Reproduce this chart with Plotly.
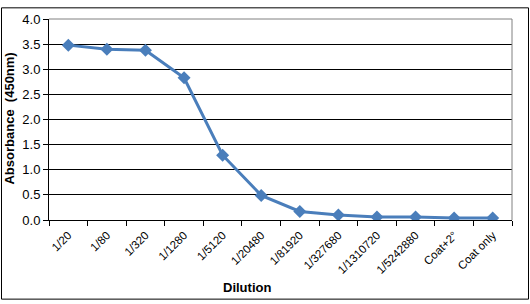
import plotly.graph_objects as go

categories = ["1/20", "1/80", "1/320", "1/1280", "1/5120", "1/20480", "1/81920",
              "1/327680", "1/1310720", "1/5242880", "Coat+2°", "Coat only"]
absorbance = [3.48, 3.40, 3.38, 2.83, 1.29, 0.49, 0.17, 0.10, 0.06, 0.06, 0.04, 0.04]
y_ticks = [0.0, 0.5, 1.0, 1.5, 2.0, 2.5, 3.0, 3.5, 4.0]

W, H = 530, 304
L, R, T, B = 49, 18, 13, 84
pw, ph = W - L - R, H - T - B

def px_x(p):
    return (p - L) / pw

def px_y(p):
    return (H - B - p) / ph

font = "Liberation Sans, Arial, sans-serif"

fig = go.Figure()
fig.add_trace(go.Scatter(
    x=categories, y=absorbance, mode="lines+markers",
    line=dict(color="#4A7EBB", width=3),
    marker=dict(symbol="diamond", size=10, color="#4A7EBB"),
))

fig.update_layout(
    width=W, height=H,
    margin=dict(l=L, r=R, t=T, b=B),
    paper_bgcolor="white", plot_bgcolor="white",
    showlegend=False,
    font=dict(family=font, color="black"),
    xaxis=dict(
        type="category", tickangle=-45, tickfont=dict(size=11.5),
        ticks="outside", tickson="boundaries", ticklen=5, tickcolor="black",
        ticklabelstandoff=3,
        showline=True, linecolor="black", linewidth=1, showgrid=False,
        range=[-0.5, len(categories) - 0.5],
    ),
    yaxis=dict(
        range=[0, 4.0], tickvals=y_ticks, tickformat=".1f",
        tickfont=dict(size=13), ticks="outside", ticklen=5, tickcolor="black",
        showline=True, linecolor="black", linewidth=1,
        showgrid=True, gridcolor="black", gridwidth=1, zeroline=False,
    ),
    shapes=[
        dict(type="line", xref="paper", yref="paper", x0=0, x1=1, y0=1, y1=1,
             line=dict(color="#808080", width=1)),
        dict(type="line", xref="paper", yref="paper", x0=1, x1=1, y0=0, y1=1,
             line=dict(color="#808080", width=1)),
        dict(type="rect", xref="paper", yref="paper",
             x0=px_x(1.5), x1=px_x(528.5), y0=px_y(301.5), y1=px_y(1.5),
             line=dict(color="black", width=1)),
    ],
    annotations=[
        dict(text="<b>Dilution</b>", xref="paper", yref="paper",
             x=px_x(247), y=px_y(289), showarrow=False,
             font=dict(size=13), xanchor="center", yanchor="middle"),
        dict(text="<b>Absorbance  (450nm)</b>", xref="paper", yref="paper",
             x=px_x(9.5), y=px_y(116), showarrow=False, textangle=-90,
             font=dict(size=13), xanchor="center", yanchor="middle"),
    ],
)

fig.write_html("out.html")
